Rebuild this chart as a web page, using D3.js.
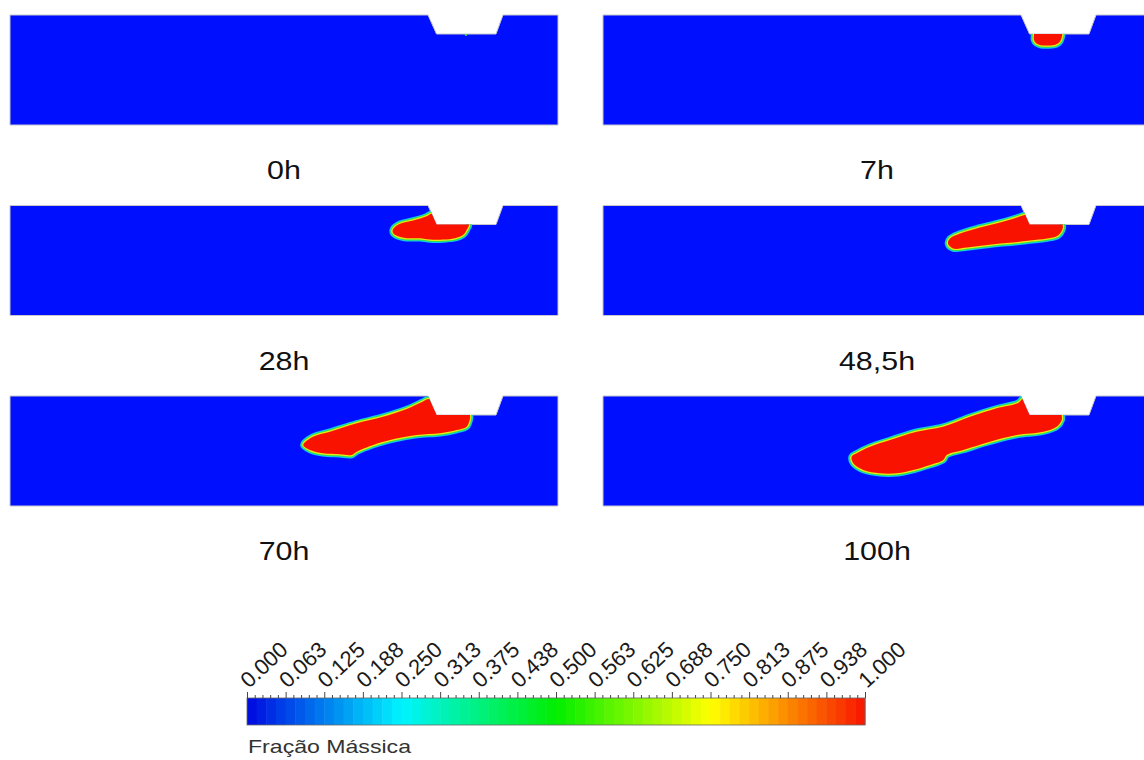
<!DOCTYPE html>
<html>
<head>
<meta charset="utf-8">
<script src="https://cdn.jsdelivr.net/npm/d3@7"></script>
<style>
	body { margin: 0; background: #fff; }
	svg { display: block; }
</style>
</head>
<body>
<script>
// snapshots of the mass fraction field, domain in mm (548 x 110), notch on top
var times = ['0h', '7h', '28h', '48,5h', '70h', '100h'];

var notch = [[418, 0], [426.5, 19], [486, 19], [493, 0]];

// outlines of the saturated (red) plume, one per snapshot
var plume0h = [];
var plume7h = [[431, 12], [431, 19], [431, 25], [433.5, 28.5], [438, 30.2], [446, 30.5], [453, 29.5], [457, 26.5], [459, 21], [459, 14], [445, 10]];
var plume28h = [[421.7, 8.3], [432, 12], [458, 13], [459, 19.5], [457.3, 23.3], [453.3, 29.3], [445, 32.7], [433.3, 34], [420, 34], [410, 32.7], [396.7, 32.7], [386.7, 30.3], [382.7, 26.7], [383.3, 23.3], [390, 18.3], [403.3, 15], [416.7, 10.7]];
var plume48h = [[424, 9], [436, 11], [459.7, 14], [459.7, 19], [459.7, 23], [455, 30], [444, 33], [427, 35], [410, 37], [397, 38], [380, 40], [364, 42], [350, 43], [345, 38], [347, 33], [357, 28], [377, 22], [397, 17], [414, 12]];
var plume70h = [[419, 3], [435, 8], [460, 14], [460, 19], [460, 22.3], [456.7, 30.7], [446.7, 34], [430, 37.3], [406.7, 39], [380, 44], [363.3, 49], [346.7, 55.7], [341.7, 59], [330, 58.3], [313, 57.3], [300, 54], [293.3, 49], [303, 40.7], [320, 35.7], [346.7, 27.3], [373, 20.7], [396.7, 13], [412, 6]];
var plume100h = [[415, 7], [421, 2], [440, 8], [458.7, 13], [458.7, 19], [458.7, 24], [453.7, 30.7], [440.3, 35.7], [413.7, 39], [387, 45.7], [360.3, 54], [343.7, 59], [340.3, 64], [327, 69], [310.3, 74], [293.7, 77.3], [277, 77.3], [260.3, 74], [250.3, 67.3], [248.7, 60.7], [253.7, 57.3], [267, 50.7], [287, 44], [313.7, 35.7], [340, 30.7], [367, 20.7], [393.7, 12.3]];
var plumes = [plume0h, plume7h, plume28h, plume48h, plume70h, plume100h];

// tiny trace at the notch floor in the first snapshot
var traces0h = [[456, 19.6]];

// colour legend
var legendValues = [0, 0.0625, 0.125, 0.1875, 0.25, 0.3125, 0.375, 0.4375, 0.5, 0.5625, 0.625, 0.6875, 0.75, 0.8125, 0.875, 0.9375, 1];
var legendLabels = ['0.000', '0.063', '0.125', '0.188', '0.250', '0.313', '0.375', '0.438', '0.500', '0.563', '0.625', '0.688', '0.750', '0.813', '0.875', '0.938', '1.000'];
var colorStops = [0, 0.25, 0.5, 0.75, 1];
var colorValues = ['#0008e0', '#00f4ff', '#00ee00', '#ffff00', '#f81400'];

var width = 1144, height = 760;
var panelW = 548, panelH = 110;
var cols = [10, 603], rows = [15, 205.5, 396];

var svg = d3.select('body').append('svg')
	.attr('width', width)
	.attr('height', height);

var x = d3.scaleLinear().domain([0, 548]).range([0, panelW]);
var y = d3.scaleLinear().domain([0, 110]).range([0, panelH]);

var color = d3.scaleLinear().domain(colorStops).range(colorValues);

// domain outline = rectangle with the trapezoid cut out
var outline = [[0, 0]].concat(notch, [[548, 0], [548, 110], [0, 110]]);
var line = d3.line().x(function(d) { return x(d[0]); }).y(function(d) { return y(d[1]); });
var smooth = d3.line()
	.x(function(d) { return x(d[0]); })
	.y(function(d) { return y(d[1]); })
	.curve(d3.curveCatmullRomClosed.alpha(0.5));

svg.append('defs').append('clipPath')
	.attr('id', 'domain')
	.append('path')
	.attr('d', line(outline) + 'Z');

// diffuse edge of the plume: outer halves of strokes show under the red fill
var rings = [
	{ w: 6.5, c: '#10c8f4' },
	{ w: 4.5, c: '#30e050' },
	{ w: 2.5, c: '#e8ec10' }
];

times.forEach(function(t, i) {
	var g = svg.append('g')
		.attr('transform', 'translate(' + cols[i % 2] + ',' + rows[Math.floor(i / 2)] + ')');

	g.append('path')
		.attr('d', line(outline) + 'Z')
		.attr('fill', '#0010ff')
		.attr('stroke', '#c6c6cc')
		.attr('stroke-width', 1);

	var inner = g.append('g').attr('clip-path', 'url(#domain)');
	var pts = plumes[i];
	if (pts.length) {
		rings.forEach(function(r) {
			inner.append('path')
				.attr('d', smooth(pts))
				.attr('fill', 'none')
				.attr('stroke', r.c)
				.attr('stroke-width', r.w)
				.attr('stroke-linejoin', 'round');
		});
		inner.append('path')
			.attr('d', smooth(pts))
			.attr('fill', '#fa1200');
	}
	if (i === 0) {
		inner.selectAll('circle').data(traces0h).enter().append('circle')
			.attr('cx', function(d) { return x(d[0]); })
			.attr('cy', function(d) { return y(d[1]); })
			.attr('r', 1.3)
			.attr('fill', '#40e040');
	}

	// time label under each panel (source text is slightly stretched)
	g.append('text')
		.attr('transform', 'translate(' + (panelW / 2) + ',164) scale(1.17,1)')
		.attr('text-anchor', 'middle')
		.attr('font-family', 'Liberation Sans, Arial, sans-serif')
		.attr('font-size', 26)
		.attr('fill', '#111')
		.text(t);
});

// colour bar
var cbX = d3.scaleLinear().domain([0, 1]).range([247, 865]);
var cbTop = 698, cbH = 27;
var nCells = 64;

var cb = svg.append('g');
cb.selectAll('rect.cell')
	.data(d3.range(nCells))
	.enter().append('rect')
	.attr('class', 'cell')
	.attr('x', function(d) { return cbX(d / nCells); })
	.attr('y', cbTop)
	.attr('width', cbX(1 / nCells) - cbX(0) + 0.5)
	.attr('height', cbH)
	.attr('fill', function(d) { return color((d + 0.5) / nCells); });

cb.append('rect')
	.attr('x', cbX(0))
	.attr('y', cbTop)
	.attr('width', cbX(1) - cbX(0))
	.attr('height', cbH)
	.attr('fill', 'none')
	.attr('stroke', '#666')
	.attr('stroke-width', 0.8);

// minor ticks: four between each pair of labelled values
var minorValues = [];
legendValues.slice(1).forEach(function(v, k) {
	var p = legendValues[k];
	for (var s = 1; s < 5; s++) minorValues.push(p + (v - p) * s / 5);
});
var minorAxis = d3.axisTop(cbX).tickValues(minorValues).tickSize(3).tickFormat('');
var majorAxis = d3.axisTop(cbX).tickValues(legendValues).tickSize(6).tickFormat('');

cb.append('g').attr('transform', 'translate(0,' + cbTop + ')').call(minorAxis);
cb.append('g').attr('transform', 'translate(0,' + cbTop + ')').call(majorAxis);
cb.selectAll('.domain').remove();
cb.selectAll('.tick line').attr('stroke', '#333').attr('stroke-width', 0.9);

cb.selectAll('text.lbl')
	.data(legendValues)
	.enter().append('text')
	.attr('class', 'lbl')
	.attr('transform', function(d) { return 'translate(' + (cbX(d) + 2) + ',689) rotate(-43)'; })
	.attr('font-family', 'Liberation Sans, Arial, sans-serif')
	.attr('font-size', 22)
	.attr('fill', '#1a1a1a')
	.text(function(d, k) { return legendLabels[k]; });

svg.append('text')
	.attr('x', 248)
	.attr('y', 753)
	.attr('font-family', 'Liberation Sans, Arial, sans-serif')
	.attr('font-size', 19)
	.attr('fill', '#333')
	.attr('textLength', 163)
	.attr('lengthAdjust', 'spacingAndGlyphs')
	.text('Fração Mássica');
</script>
</body>
</html>
